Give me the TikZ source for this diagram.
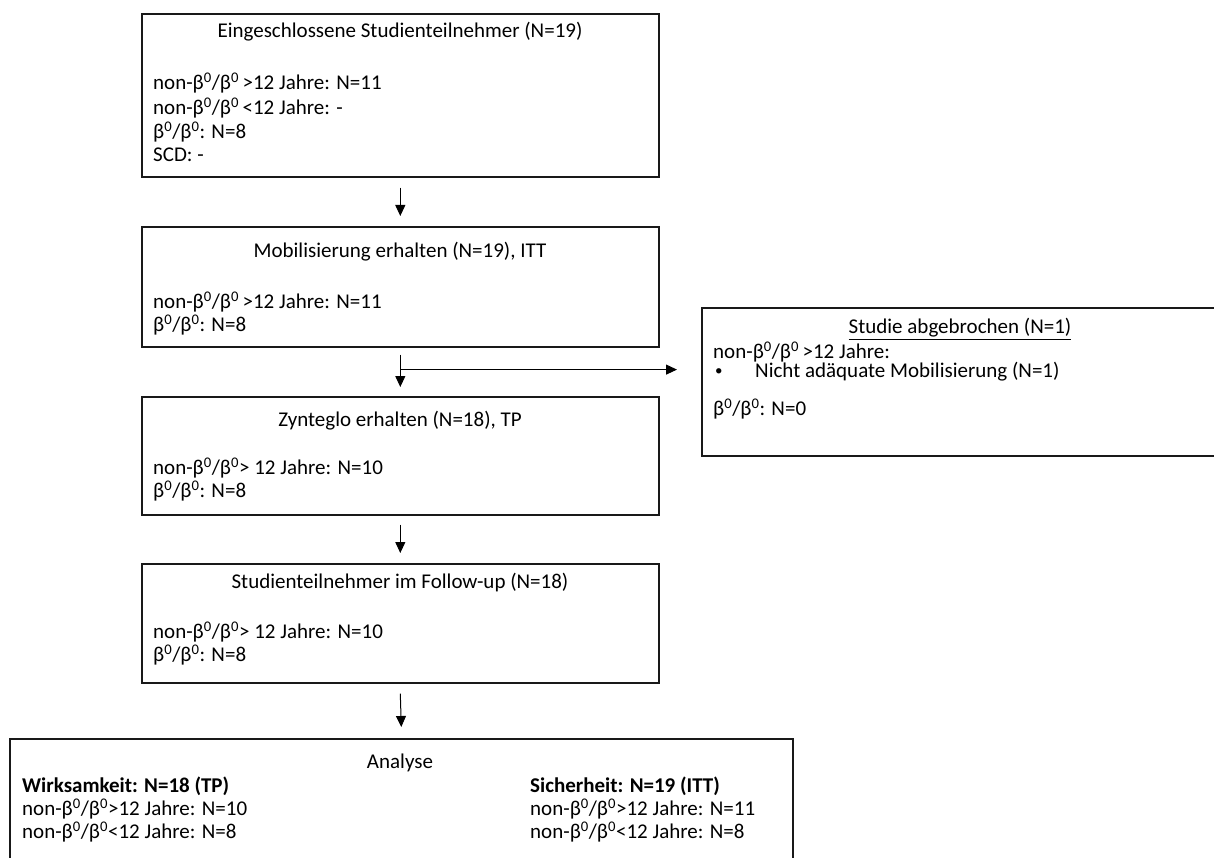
\documentclass[tikz,border=0pt]{standalone}
\usepackage{fontspec}
\setmainfont{Carlito}
\usetikzlibrary{arrows.meta}
\newcommand\bnull{β\textsuperscript{0}}
\begin{document}
\begin{tikzpicture}[x=1pt,y=-1pt,
  box/.style={draw=black!90,line width=1.6pt,anchor=north west,inner sep=0pt},
  txt/.style={inner sep=0pt,anchor=west,font=\fontsize{21}{24}\selectfont},
  ttl/.style={inner sep=0pt,anchor=center,font=\fontsize{21}{24}\selectfont},
  conn/.style={draw=black,line width=1pt,-{Triangle[width=10pt,length=11pt]}}]
\useasboundingbox (0,0) rectangle (1214,858);
\clip (0,0) rectangle (1214,858);
% boxes
\node[box,minimum width=517pt,minimum height=163pt] (b1) at (141,13) {};
\node[box,minimum width=517pt,minimum height=120pt] (b2) at (141,226) {};
\node[box,minimum width=517pt,minimum height=118pt] (b3) at (141,396) {};
\node[box,minimum width=517pt,minimum height=119pt] (b4) at (141,563) {};
\node[box,minimum width=560pt,minimum height=148pt] (s) at (701,307) {};
\node[box,minimum width=783pt,minimum height=140pt] (b5) at (9,738) {};
% box 1
\node[ttl] (t1) at (400,32) {Eingeschlossene Studienteilnehmer (N=19)};
\node[txt] (t1a) at (153,83) {non-\bnull/\bnull\,>12 Jahre: N=11};
\node[txt] (t1b) at (153,108) {non-\bnull/\bnull\,<12 Jahre: -};
\node[txt] (t1c) at (153,132) {\bnull/\bnull: N=8};
\node[txt] (t1d) at (153,155) {SCD: -};
% box 2
\node[ttl] (t2) at (400,252) {Mobilisierung erhalten (N=19), ITT};
\node[txt] (t2a) at (153,302) {non-\bnull/\bnull\,>12 Jahre: N=11};
\node[txt] (t2b) at (153,325) {\bnull/\bnull: N=8};
% box 3
\node[ttl] (t3) at (400,421) {Zynteglo erhalten (N=18), TP};
\node[txt] (t3a) at (153,468) {non-\bnull/\bnull> 12 Jahre: N=10};
\node[txt] (t3b) at (153,491) {\bnull/\bnull: N=8};
% box 4
\node[ttl] (t4) at (400,583) {Studienteilnehmer im Follow-up (N=18)};
\node[txt] (t4a) at (153,632) {non-\bnull/\bnull> 12 Jahre: N=10};
\node[txt] (t4b) at (153,655) {\bnull/\bnull: N=8};
% side box
\node[ttl] (ts) at (960,329) {\underline{Studie abgebrochen (N=1)}};
\node[txt] (tsa) at (713,352) {non-\bnull/\bnull\,>12 Jahre:};
\node[txt] (tsb) at (715,372) {\fontsize{15}{15}\selectfont •};
\node[txt] (tsc) at (755,372) {Nicht adäquate Mobilisierung (N=1)};
\node[txt] (tsd) at (713,409) {\bnull/\bnull: N=0};
% box 5
\node[ttl] (t5) at (400,763) {Analyse};
\node[txt] (t5a) at (22,786) {\textbf{Wirksamkeit: N=18 (TP)}};
\node[txt] (t5b) at (22,809) {non-\bnull/\bnull>12 Jahre: N=10};
\node[txt] (t5c) at (22,832) {non-\bnull/\bnull<12 Jahre: N=8};
\node[txt] (t5d) at (530,786) {\textbf{Sicherheit: N=19 (ITT)}};
\node[txt] (t5e) at (530,809) {non-\bnull/\bnull>12 Jahre: N=11};
\node[txt] (t5f) at (530,832) {non-\bnull/\bnull<12 Jahre: N=8};
% connectors
\draw[conn] ([yshift=-10pt]b1.south) -- ([yshift=10pt]b2.north);
\draw[conn] ([yshift=-7pt]b2.south) -- ([yshift=9pt]b3.north);
\coordinate (br) at ([yshift=-22pt]b2.south);
\draw[conn] (br) -- ([xshift=-24pt]s.west |- br);
\draw[conn] ([yshift=-9pt]b3.south) -- ([yshift=10pt]b4.north);
\draw[conn] ([yshift=-10pt]b4.south) -- ([yshift=11pt]b5.north);
\end{tikzpicture}
\end{document}
